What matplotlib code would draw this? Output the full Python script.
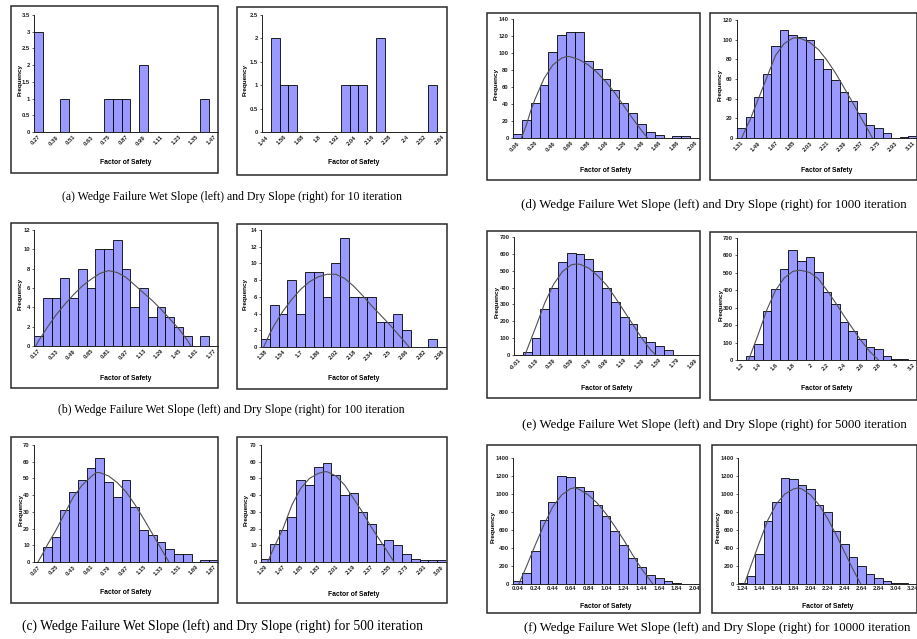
import numpy as np
import matplotlib
matplotlib.use('Agg')
import matplotlib.pyplot as plt
from matplotlib.patches import Rectangle
from matplotlib.ticker import FormatStrFormatter

W, H = 917, 639

# (a) 10 iterations
a_wet_labels = ['0.27', '0.39', '0.51', '0.63', '0.75', '0.87', '0.99', '1.11', '1.23', '1.35', '1.47']
a_wet_counts = [3, 0, 0, 1, 0, 0, 0, 0, 1, 1, 1, 0, 2, 0, 0, 0, 0, 0, 0, 1, 0]
a_dry_labels = ['1.44', '1.56', '1.68', '1.8', '1.92', '2.04', '2.16', '2.28', '2.4', '2.52', '2.64']
a_dry_counts = [0, 2, 1, 1, 0, 0, 0, 0, 0, 1, 1, 1, 0, 2, 0, 0, 0, 0, 0, 1, 0]

# (b) 100 iterations
b_wet_labels = ['0.17', '0.33', '0.49', '0.65', '0.81', '0.97', '1.13', '1.29', '1.45', '1.61', '1.77']
b_wet_counts = [1, 5, 5, 7, 5, 8, 6, 10, 10, 11, 8, 4, 6, 3, 4, 3, 2, 1, 0, 1, 0]
b_wet_curve_x = [-0.3, 0, 1, 2, 3, 4, 5, 6, 7, 8, 9, 10, 11, 12, 13, 14, 15, 16, 17, 17.4]
b_wet_curve_y = [0, 0.5, 1.9, 3.2, 4.3, 5.3, 6.2, 6.9, 7.5, 7.8, 7.6, 7.1, 6.3, 5.5, 4.7, 3.8, 2.8, 1.8, 0.6, 0]
b_dry_labels = ['1.38', '1.54', '1.7', '1.86', '2.02', '2.18', '2.34', '2.5', '2.66', '2.82', '2.98']
b_dry_counts = [1, 5, 4, 8, 4, 9, 9, 6, 10, 13, 6, 6, 6, 3, 3, 4, 2, 0, 0, 1, 0]
b_dry_curve_x = [-0.2, 0.5, 1, 2, 3, 4, 5, 6, 7, 8, 9, 10, 11, 12, 13, 14, 15, 16, 16.3]
b_dry_curve_y = [0, 1.6, 2.6, 4.3, 5.7, 6.9, 7.8, 8.4, 8.7, 8.7, 8.2, 7.3, 6.2, 5.0, 3.9, 2.8, 1.6, 0.4, 0]

# (c) 500 iterations
c_wet_labels = ['0.07', '0.25', '0.43', '0.61', '0.79', '0.97', '1.15', '1.33', '1.51', '1.69', '1.87']
c_wet_counts = [0, 9, 15, 31, 42, 49, 56, 62, 48, 39, 49, 33, 19, 16, 12, 8, 5, 5, 0, 1, 1]
c_wet_curve_x = [-0.05, 0.5, 1, 2, 3, 4, 5, 6, 6.6, 7, 8, 9, 10, 11, 12, 13, 14, 14.9]
c_wet_curve_y = [0, 5, 10, 19, 29, 39, 46, 51, 53.5, 53.5, 51.5, 47.5, 42, 34.5, 26, 17, 8, 0]
c_dry_labels = ['1.29', '1.47', '1.65', '1.83', '2.01', '2.19', '2.37', '2.55', '2.73', '2.91', '3.09']
c_dry_counts = [2, 11, 19, 27, 49, 46, 57, 59, 52, 40, 41, 30, 23, 11, 13, 10, 5, 2, 1, 1, 1]
c_dry_curve_x = [0.25, 1, 2, 3, 4, 5, 6, 6.7, 7, 8, 9, 10, 11, 12, 13, 14, 14.6]
c_dry_curve_y = [0, 9, 20, 34, 44, 50, 53, 54, 54, 51.5, 46, 38, 30, 21, 13, 5, 0]

# (d) 1000 iterations
d_wet_labels = ['0.06', '0.26', '0.46', '0.66', '0.86', '1.06', '1.26', '1.46', '1.66', '1.86', '2.06']
d_wet_counts = [5, 21, 41, 62, 101, 121, 125, 125, 91, 81, 70, 57, 41, 29, 16, 7, 3, 0, 2, 2, 0]
d_wet_curve_x = [0.45, 1, 1.5, 2, 3, 4, 5, 5.6, 6, 7, 8, 9, 10, 11, 12, 13, 14, 14.7]
d_wet_curve_y = [0, 15, 32, 46, 70, 86, 94, 96, 95.5, 92, 86, 77, 66, 53, 38, 23, 9, 0]
d_dry_labels = ['1.31', '1.49', '1.67', '1.85', '2.03', '2.21', '2.39', '2.57', '2.75', '2.93', '3.11']
d_dry_counts = [10, 21, 42, 65, 94, 110, 105, 103, 100, 80, 70, 59, 47, 38, 25, 13, 10, 5, 0, 1, 2]
d_dry_curve_x = [0.05, 0.5, 1, 2, 3, 4, 5, 6, 6.3, 7, 8, 9, 10, 11, 12, 13, 14, 15, 15.3]
d_dry_curve_y = [0, 9, 18, 40, 62, 84, 96, 101.5, 102, 101, 97, 90, 79, 66, 51, 36, 20, 5, 0]

# (e) 5000 iterations
e_wet_labels = ['-0.01', '0.19', '0.39', '0.59', '0.79', '0.99', '1.19', '1.39', '1.59', '1.79', '1.99']
e_wet_counts = [0, 20, 100, 272, 398, 550, 606, 600, 570, 500, 398, 312, 223, 184, 109, 75, 55, 28, 0, 0, 0]
e_wet_curve_x = [0.75, 1, 2, 3, 4, 5, 6, 6.6, 7, 8, 9, 10, 11, 12, 13, 14, 15, 15.6]
e_wet_curve_y = [0, 35, 170, 310, 420, 495, 535, 540, 538, 515, 470, 415, 340, 260, 180, 100, 30, 0]
e_dry_labels = ['1.2', '1.4', '1.6', '1.8', '2', '2.2', '2.4', '2.6', '2.8', '3', '3.2']
e_dry_counts = [0, 25, 90, 280, 408, 522, 629, 566, 589, 504, 389, 322, 219, 169, 119, 73, 61, 25, 6, 6, 0]
e_dry_curve_x = [0.85, 1, 2, 3, 4, 5, 6, 6.75, 7, 8, 9, 10, 11, 12, 13, 14, 15, 16]
e_dry_curve_y = [0, 20, 150, 290, 400, 470, 508, 515, 514, 502, 465, 400, 328, 252, 180, 110, 48, 0]

# (f) 10000 iterations
f_wet_labels = ['0.04', '0.24', '0.44', '0.64', '0.84', '1.04', '1.24', '1.44', '1.64', '1.84', '2.04']
f_wet_counts = [30, 119, 370, 710, 915, 1200, 1189, 1078, 1030, 878, 759, 593, 437, 285, 189, 96, 67, 37, 15, 4, 0]
f_wet_curve_x = [0.15, 1, 2, 3, 4, 5, 6, 6.5, 7, 8, 9, 10, 11, 12, 13, 14, 15, 15.3]
f_wet_curve_y = [0, 190, 430, 660, 860, 990, 1060, 1070, 1050, 990, 900, 780, 640, 490, 325, 170, 40, 0]
f_dry_labels = ['1.24', '1.44', '1.64', '1.84', '2.04', '2.24', '2.44', '2.64', '2.84', '3.04', '3.24']
f_dry_counts = [10, 90, 330, 700, 915, 1175, 1165, 1105, 1060, 880, 800, 590, 445, 295, 200, 115, 70, 35, 10, 10, 0]
f_dry_curve_x = [0.25, 1, 2, 3, 4, 5, 6, 6.5, 7, 8, 9, 10, 11, 12, 13, 13.9]
f_dry_curve_y = [0, 200, 460, 710, 890, 1000, 1055, 1067, 1055, 990, 880, 730, 550, 355, 160, 0]

captions = [
  '(a) Wedge Failure Wet Slope (left) and Dry Slope (right) for 10 iteration',
  '(b) Wedge Failure Wet Slope (left) and Dry Slope (right) for 100 iteration',
  '(c) Wedge Failure Wet Slope (left) and Dry Slope (right) for 500 iteration',
  '(d) Wedge Failure Wet Slope (left) and Dry Slope (right) for 1000 iteration',
  '(e) Wedge Failure Wet Slope (left) and Dry Slope (right) for 5000 iteration',
  '(f) Wedge Failure Wet Slope (left) and Dry Slope (right) for 10000 iteration',
]

SANS = ['Liberation Sans', 'DejaVu Sans']
BAR = '#9999ff'


def fx(px):
  return px / W


def fy(py):
  return 1 - py / H


def draw_panel(fig, frame, box, counts, labels, ymax, ystep,
               cx=None, cy=None, flat=False, ylab_off=16, xlab_y=None):
  x0, y0, x1, y1 = frame
  fig.add_artist(Rectangle((fx(x0), fy(y1)), fx(x1 - x0), (y1 - y0) / H,
                           transform=fig.transFigure, fill=False,
                           edgecolor='#2a2a2a', linewidth=1.1))
  left, top, right, bottom = box
  ax = fig.add_axes([fx(left), fy(bottom), fx(right - left), (bottom - top) / H])
  ax.patch.set_alpha(0)
  x = np.arange(len(counts))
  ax.bar(x, counts, width=1.0, color=BAR, edgecolor='black', linewidth=0.6)
  if cx is not None:
    ax.plot(cx, cy, color='#505050', linewidth=0.8)
  ax.set_xlim(-0.5, len(counts) - 0.5)
  ax.set_ylim(0, ymax)
  ax.set_yticks(np.arange(0, ymax + ystep / 2, ystep))
  ax.yaxis.set_major_formatter(FormatStrFormatter('%g'))
  ax.set_xticks(x[::2])
  if flat:
    ax.set_xticklabels(labels, fontsize=4.2, family=SANS, fontweight='bold')
  else:
    ax.set_xticklabels(labels, fontsize=4.2, family=SANS, fontweight='bold',
                       rotation=45, ha='right', va='top', rotation_mode='anchor')
  for t in ax.get_yticklabels():
    t.set_fontsize(4.2)
    t.set_family(SANS)
    t.set_fontweight('bold')
  ax.tick_params(axis='y', length=1.8, width=0.5, pad=1.2, colors='#222222')
  ax.tick_params(axis='x', length=0, pad=1.8, colors='#222222')
  for s in ['top', 'right']:
    ax.spines[s].set_visible(False)
  for s in ['left', 'bottom']:
    ax.spines[s].set_linewidth(0.7)
    ax.spines[s].set_color('#222222')
  fig.text(fx(left - ylab_off), fy((top + bottom) / 2 + 6), 'Frequency', rotation=90,
           ha='center', va='center', fontsize=4.6, fontweight='bold', family=SANS)
  fig.text(fx((left + right) / 2), fy(xlab_y), 'Factor of Safety', ha='center',
           va='center', fontsize=4.9, fontweight='bold', family=SANS)
  return ax


fig = plt.figure(figsize=(W / 100, H / 100), dpi=100)
fig.patch.set_facecolor('white')

# left column
draw_panel(fig, (11, 6, 218, 173), (34, 15, 218, 132), a_wet_counts, a_wet_labels, 3.5, 0.5,
           ylab_off=14, xlab_y=163)
draw_panel(fig, (237, 7, 447, 175), (262, 15, 446, 132), a_dry_counts, a_dry_labels, 2.5, 0.5,
           ylab_off=17, xlab_y=163)
draw_panel(fig, (11, 223, 218, 388), (34, 230, 218, 346), b_wet_counts, b_wet_labels, 12, 2,
           b_wet_curve_x, b_wet_curve_y, ylab_off=14, xlab_y=379)
draw_panel(fig, (237, 224, 447, 389), (261, 230, 446, 347), b_dry_counts, b_dry_labels, 14, 2,
           b_dry_curve_x, b_dry_curve_y, ylab_off=16, xlab_y=378)
draw_panel(fig, (11, 437, 218, 603), (34, 445, 218, 562), c_wet_counts, c_wet_labels, 70, 10,
           c_wet_curve_x, c_wet_curve_y, ylab_off=13, xlab_y=593)
draw_panel(fig, (237, 437, 447, 603), (261, 445, 446, 562), c_dry_counts, c_dry_labels, 70, 10,
           c_dry_curve_x, c_dry_curve_y, ylab_off=15, xlab_y=594)

# right column
draw_panel(fig, (487, 13, 700, 180), (513, 19, 699, 138), d_wet_counts, d_wet_labels, 140, 20,
           d_wet_curve_x, d_wet_curve_y, ylab_off=17, xlab_y=170)
draw_panel(fig, (710, 13, 917, 180), (737, 20, 917, 138), d_dry_counts, d_dry_labels, 120, 20,
           d_dry_curve_x, d_dry_curve_y, ylab_off=17, xlab_y=171)
draw_panel(fig, (487, 231, 700, 398), (514, 237, 699, 355), e_wet_counts, e_wet_labels, 700, 100,
           e_wet_curve_x, e_wet_curve_y, ylab_off=17, xlab_y=389)
draw_panel(fig, (710, 232, 917, 400), (737, 238, 917, 360), e_dry_counts, e_dry_labels, 700, 100,
           e_dry_curve_x, e_dry_curve_y, ylab_off=16, xlab_y=388)
draw_panel(fig, (487, 445, 700, 613), (513, 458, 699, 584), f_wet_counts, f_wet_labels, 1400, 200,
           f_wet_curve_x, f_wet_curve_y, flat=True, ylab_off=20, xlab_y=606)
draw_panel(fig, (712, 445, 917, 613), (738, 458, 917, 584), f_dry_counts, f_dry_labels, 1400, 200,
           f_dry_curve_x, f_dry_curve_y, flat=True, ylab_off=20, xlab_y=606)

# captions
cap_pos = [(232, 197, 8.5), (231, 410, 8.5), (223, 626, 9.8), (714, 205, 9.3), (714, 425, 9.3), (717, 628, 9.2)]
for txt, (cx_, cy_, fs) in zip(captions, cap_pos):
  fig.text(fx(cx_), fy(cy_), txt, ha='center', va='center', fontsize=fs,
           family=['Liberation Serif', 'DejaVu Serif'])

fig.savefig('out.png', dpi=100)
